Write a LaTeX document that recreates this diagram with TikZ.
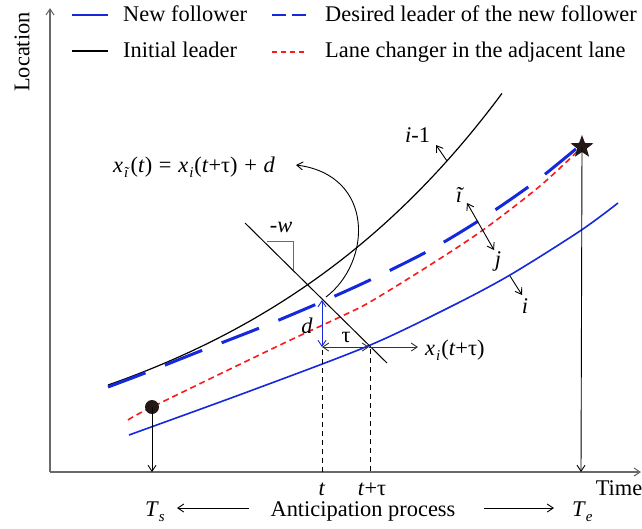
\documentclass[tikz,border=0pt]{standalone}
\usepackage{fontspec}
\setmainfont{Liberation Serif}
\usetikzlibrary{arrows.meta,shapes.geometric}
\definecolor{myblue}{RGB}{20,40,220}
\definecolor{myred}{RGB}{250,25,25}
\definecolor{axisgray}{RGB}{105,105,105}
\definecolor{dotc}{RGB}{35,24,21}
\newcommand\sbs[1]{\raisebox{-0.5ex}{\fontsize{15}{15}\selectfont\textit{#1}}}
\begin{document}
\begin{tikzpicture}[x=1pt,y=-1pt,
  font=\fontsize{22.4}{26}\selectfont,
  barb/.style={-{Straight Barb[length=6pt,width=8pt]}},
  dbarb/.style={{Straight Barb[length=6pt,width=8pt]}-{Straight Barb[length=6pt,width=8pt]}},
  axisline/.style={axisgray,line width=1.1pt},
  follower/.style={myblue,line width=1.6pt},
  leader/.style={black,line width=1.2pt},
  desired/.style={myblue,line width=3pt,dash pattern=on 40pt off 21pt},
  changer/.style={myred,line width=1.6pt,dash pattern=on 6pt off 4pt},
  guide/.style={black,line width=0.8pt,dash pattern=on 5pt off 4pt},
  lbl/.style={inner sep=0pt,anchor=base},
  lblw/.style={inner sep=0pt,anchor=base west}]
\useasboundingbox (0,0) rectangle (642,528);

% axes
\coordinate (O) at (50,472);
\coordinate (Ytop) at (50,8);
\coordinate (Xend) at (641,472);
\draw[axisline,barb] (O) -- (Ytop);
\draw[axisline,barb] (O) -- (Xend);
\node[rotate=90,inner sep=0pt] (ylab) at (22,52) {Location};
\node[lbl] (xlab) at (619,495) {Time};

% legend
\coordinate (L1a) at (72,15); \coordinate (L1b) at (108,15);
\coordinate (L2a) at (72,51); \coordinate (L2b) at (108,51);
\coordinate (L3a) at (272,15); \coordinate (L3b) at (306,15);
\coordinate (L4a) at (272,52); \coordinate (L4b) at (306,52);
\draw[follower] (L1a) -- (L1b);
\draw[leader] (L2a) -- (L2b);
\draw[myblue,line width=1.6pt,dash pattern=on 14pt off 6pt] (L3a) -- (L3b);
\draw[myred,line width=1.6pt,dash pattern=on 5pt off 4pt] (L4a) -- (L4b);
\node[lblw] (lg1) at (123,21) {New follower};
\node[lblw] (lg2) at (123,57) {Initial leader};
\node[lblw] (lg3) at (325,21) {Desired leader of the new follower};
\node[lblw] (lg4) at (325,57) {Lane changer in the adjacent lane};

% curves
\draw[leader] plot[domain=108:502,samples=60] (\x,{487.56-70.89*exp(0.00342*\x)});
\draw[desired] plot[smooth] coordinates {(108,387) (145,373) (203,350) (262,327) (319,303) (370,280) (430,250) (483,218) (535,182) (577,148)};
\draw[changer] plot[smooth] coordinates {(128,420) (152,407) (280,345) (340,317) (370,302) (430,265) (483,230) (540,186) (582,147)};
\draw[follower] plot[smooth] coordinates {(129,435) (250,391) (368,346) (450,307) (510,275) (580,231) (618,203)};

% start and end markers
\node[circle,fill=dotc,inner sep=0pt,minimum size=14pt] (dot) at (152,407) {};
\node[star,star points=5,star point ratio=2.4,fill=dotc,inner sep=0pt,minimum size=24pt] (star) at (582,147) {};
\coordinate (Ts) at (152,472);
\coordinate (Te) at (581,472);
\draw[black,line width=0.9pt,barb] (dot.center) -- (Ts);
\draw[black,line width=0.9pt,barb] (star.center) -- (Te);

% wave line and right angle
\coordinate (W1) at (245,223);
\coordinate (W2) at (387,363);
\draw[black,line width=1pt] (W1) -- (W2);
\coordinate (R1) at (267,241); \coordinate (R2) at (293,241); \coordinate (R3) at (293,270);
\draw[axisgray,line width=0.8pt] (R1) -- (R2) -- (R3);
\node[lbl] (wlab) at (281,232) {-\textit{w}};

% d and tau
\coordinate (P) at (322,300);
\coordinate (Q) at (322,347);
\coordinate (S) at (369,347);
\coordinate (S2) at (418,347);
\draw[myblue,line width=0.9pt,dbarb] (P) -- (Q);
\draw[black!80,line width=0.9pt,dbarb] (Q) -- (S);
\draw[black!80,line width=0.9pt,barb] (S) -- (S2);
\node[lbl] (dlab) at (307,333) {\textit{d}};
\node[lbl] (taulab) at (346,342) {τ};
\node[lblw] (xilab) at (425,355) {\textit{x}\hspace{1pt}\sbs{i}\hspace{1pt}(\textit{t}+τ)};
\coordinate (Tt) at (322,472);
\coordinate (Ttt) at (370,472);
\coordinate (Qb) at (322,350);
\coordinate (Sb) at (370,349);
\draw[guide] (Qb) -- (Tt);
\draw[guide] (Sb) -- (Ttt);
\node[lbl] (tlab) at (322,495) {\textit{t}};
\node[lbl] (ttlab) at (372,495) {\textit{t}+τ};

% equation and curved arrow
\node[lblw] (eq) at (113,172) {\textit{x}\hspace{1pt}\sbs{ĩ}\hspace{1pt}(\textit{t})\hspace{0.3em}=\hspace{0.3em}\textit{x}\hspace{1pt}\sbs{i}\hspace{1pt}(\textit{t}+τ)\hspace{0.3em}+\hspace{0.3em}\textit{d}};
\coordinate (A1) at (326,297);
\coordinate (A2) at (296,165);
\draw[black,line width=0.9pt,barb] (A1) .. controls (372,262) and (375,175) .. (A2);

% vehicle labels
\coordinate (C1) at (447,161); \coordinate (C1e) at (436,145);
\draw[black,line width=0.9pt,barb] (C1) -- (C1e);
\node[lblw] (im1) at (405,142) {\textit{i}-1};
\coordinate (C2a) at (467,203); \coordinate (C2b) at (494,250);
\draw[black,line width=0.9pt,dbarb] (C2a) -- (C2b);
\node[lbl] (itl) at (460,202) {\textit{ĩ}};
\node[lbl] (jl) at (498,266) {\textit{j}};
\coordinate (C3) at (510,276); \coordinate (C3e) at (522,295);
\draw[black,line width=0.9pt,barb] (C3) -- (C3e);
\node[lbl] (il) at (525,313) {\textit{i}};

% bottom process
\node[lblw] (TsL) at (145,516) {\textit{T}\sbs{s}};
\node[lblw] (TeL) at (572,516) {\textit{T}\sbs{e}};
\node[lbl] (ap) at (363,516) {Anticipation process};
\coordinate (B1) at (249,508); \coordinate (B2) at (177,508);
\coordinate (B3) at (484,508); \coordinate (B4) at (554,508);
\draw[black,line width=0.9pt,barb] (B1) -- (B2);
\draw[black,line width=0.9pt,barb] (B3) -- (B4);
\end{tikzpicture}
\end{document}
